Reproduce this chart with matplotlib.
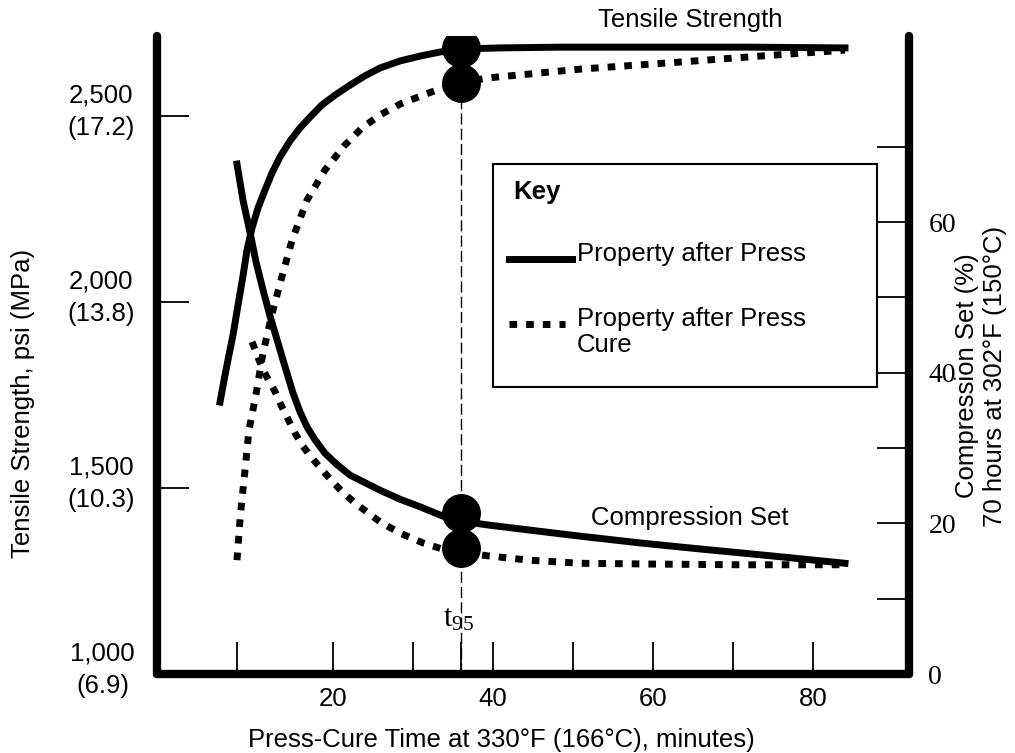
import matplotlib.pyplot as plt
from matplotlib.patches import Rectangle
from matplotlib.transforms import ScaledTranslation

plt.rcParams['font.family'] = ['Liberation Sans', 'DejaVu Sans']
plt.rcParams['mathtext.fontset'] = 'custom'
plt.rcParams['mathtext.rm'] = 'Liberation Serif'

# tensile strength (psi), property after press
ts_press_t = [5.88, 6.38, 7.0, 7.5, 8.13, 8.75, 9.25, 9.88, 10.63, 11.5, 12.38, 13.38, 14.63,
              15.88, 17.13, 18.63, 20.25, 22.13, 24.0, 25.88, 28.38, 30.88, 33.38, 36,
              40.88, 48.38, 59.63, 72.13, 84]
ts_press = [1731, 1790, 1858, 1911, 1992, 2070, 2140, 2199, 2253, 2301, 2347, 2390, 2433,
            2468, 2497, 2530, 2556, 2583, 2608, 2629, 2648, 2661, 2672, 2680,
            2683, 2685, 2685, 2685, 2683]

# tensile strength (psi), property after press cure
ts_cure_t = [8.0, 8.4, 9.0, 9.5, 10.4, 11.25, 12.4, 13.6, 14.9, 16.75, 19, 21.5, 23.63, 25.9,
             28.38, 31.25, 33.63, 36, 39.25, 44.63, 50.9, 63.4, 73.4, 84]
ts_cure = [1306, 1422, 1548, 1656, 1755, 1863, 1970, 2067, 2167, 2274, 2355, 2422, 2468, 2503,
           2532, 2556, 2575, 2589, 2602, 2613, 2626, 2645, 2661, 2677]

# compression set (%), property after press
cs_press_t = [8.0, 8.75, 9.63, 10.38, 11.25, 12.13, 13.0, 14.0, 15.0, 15.88, 16.75, 17.75, 19.0,
              20.5, 22.13, 24.0, 25.88, 28.38, 30.88, 33.63, 36, 39.25, 44.63, 50.88, 58.38,
              65.88, 74.63, 84]
cs_press = [67.7, 62.9, 58.6, 54.7, 51.0, 47.5, 44.4, 40.8, 37.3, 34.8, 32.8, 31.1, 29.3,
            27.8, 26.4, 25.4, 24.4, 23.2, 22.2, 21.0, 20.3, 19.8, 19.1, 18.3, 17.4,
            16.6, 15.7, 14.7]

# compression set (%), property after press cure
cs_cure_t = [9.88, 10.63, 11.25, 12.0, 12.75, 13.5, 14.25, 15.25, 16.13, 17.13, 18.38, 19.63,
             21.13, 22.75, 24.38, 25.88, 28.38, 31.25, 33.63, 36, 39.25, 44.63, 50.88, 59.63,
             70.88, 84]
cs_cure = [44.1, 42.0, 40.4, 38.9, 37.5, 35.7, 34.1, 32.0, 30.4, 29.0, 27.4, 25.9,
           24.2, 22.7, 21.4, 20.2, 18.7, 17.4, 16.6, 16.2, 15.7, 15.1, 14.7, 14.6,
           14.5, 14.5]

t95 = 36
t95_ts = [2683, 2589]
t95_cs = [21.4, 16.7]

x_ticks = [8, 20, 30, 36, 40, 50, 60, 70, 80]
x_labels = ['', '20', '', '', '40', '', '60', '', '80']
ts_ticks = [1000, 1500, 2000, 2500]
ts_labels = ['1,000\n(6.9)', '1,500\n(10.3)', '2,000\n(13.8)', '2,500\n(17.2)']
cs_ticks = [0, 10, 20, 30, 40, 50, 60, 70]
cs_labels = ['0', '', '20', '', '40', '', '60', '']

W, H = 1015, 753
L, R, B, T = 157, 909, 674, 36
FS = 18.5


def pos(x, y):
    # pixel position -> axes fraction
    return (x - L) / (R - L), (B - y) / (B - T)


fig = plt.figure(figsize=(W / 100, H / 100), dpi=100)
ax = fig.add_axes([L / W, 1 - B / H, (R - L) / W, (B - T) / H])
ax2 = ax.twinx()

ax.set_xlim(-2, 92)
ax.set_ylim(1000, 2715)
ax2.set_ylim(0, 84.7)

dot = (0, (1.1, 1.3))
ax.plot(ts_press_t, ts_press, color='black', lw=5, solid_joinstyle='round')
ax.plot(ts_cure_t, ts_cure, color='black', lw=5, linestyle=dot)
ax2.plot(cs_press_t, cs_press, color='black', lw=5, solid_joinstyle='round')
ax2.plot(cs_cure_t, cs_cure, color='black', lw=5, linestyle=dot)

ax.plot([t95, t95], [1000, t95_ts[1]], color='black', lw=1, linestyle=(0, (8, 3)))
ax.plot([t95] * 2, t95_ts, 'o', color='black', ms=27)
ax2.plot([t95] * 2, t95_cs, 'o', color='black', ms=27)

ax.text(t95 - 0.3, 1150, r'$\mathrm{t_{95}}$', fontsize=22, ha='center', va='center')

# spines
ax.spines['top'].set_visible(False)
ax.spines['right'].set_visible(False)
ax2.spines['top'].set_visible(False)
ax2.spines['left'].set_visible(False)
ax2.spines['bottom'].set_visible(False)
for sp in [ax.spines['left'], ax.spines['bottom'], ax2.spines['right']]:
    sp.set_linewidth(6)
    sp.set_capstyle('round')

ax.set_xticks(x_ticks)
ax.set_xticklabels(x_labels)
ax.set_yticks(ts_ticks)
ax.set_yticklabels(ts_labels, multialignment='center', linespacing=1.45)
ax2.set_yticks(cs_ticks)
ax2.set_yticklabels(cs_labels, fontfamily='Liberation Serif')

ax.tick_params(axis='both', direction='in', length=23, width=1.3, labelsize=FS)
ax.tick_params(axis='y', pad=16)
ax.tick_params(axis='x', pad=9)
ax2.tick_params(axis='y', direction='in', length=23, width=1.3, pad=14, labelsize=20)

shift_up = ScaledTranslation(0, 0.11, fig.dpi_scale_trans)
for lbl in ax.get_yticklabels():
    lbl.set_transform(lbl.get_transform() + shift_up)

# axis titles
fig.text(23 / W, 1 - 403 / H, 'Tensile Strength, psi (MPa)', rotation=90,
         ha='center', va='center', fontsize=FS)
fig.text(501 / W, 1 - 740 / H, 'Press-Cure Time at 330°F (166°C), minutes)',
         ha='center', va='center', fontsize=FS)
fig.text(981 / W, 1 - 376 / H, 'Compression Set (%)\n70 hours at 302°F (150°C)',
         rotation=90, ha='center', va='center', multialignment='center', fontsize=FS)

# curve names
ax2.text(*pos(690, 20), 'Tensile Strength', transform=ax2.transAxes,
         ha='center', va='center', fontsize=FS, clip_on=False)
ax2.text(*pos(690, 518), 'Compression Set', transform=ax2.transAxes,
         ha='center', va='center', fontsize=FS)

# key box
x0, y0 = pos(493, 387)
x1, y1 = pos(877, 164)
ax2.add_patch(Rectangle((x0, y0), x1 - x0, y1 - y0, transform=ax2.transAxes,
                        facecolor='white', edgecolor='black', lw=1.5, zorder=3))
ax2.text(*pos(513, 192), 'Key', transform=ax2.transAxes, fontsize=FS,
         fontweight='bold', ha='left', va='center', zorder=4)
ax2.plot([pos(509, 0)[0], pos(572, 0)[0]], [pos(0, 259)[1]] * 2, color='black',
         lw=5, transform=ax2.transAxes, zorder=4, clip_on=False)
ax2.text(*pos(577, 261), 'Property after Press', transform=ax2.transAxes,
         fontsize=FS, ha='left', va='baseline', zorder=4)
ax2.plot([pos(509, 0)[0], pos(565, 0)[0]], [pos(0, 324)[1]] * 2, color='black',
         lw=5, linestyle=dot, transform=ax2.transAxes, zorder=4, clip_on=False)
ax2.text(*pos(577, 326), 'Property after Press', transform=ax2.transAxes,
         fontsize=FS, ha='left', va='baseline', zorder=4)
ax2.text(*pos(577, 352), 'Cure', transform=ax2.transAxes,
         fontsize=FS, ha='left', va='baseline', zorder=4)

fig.savefig('out.png', dpi=100)
